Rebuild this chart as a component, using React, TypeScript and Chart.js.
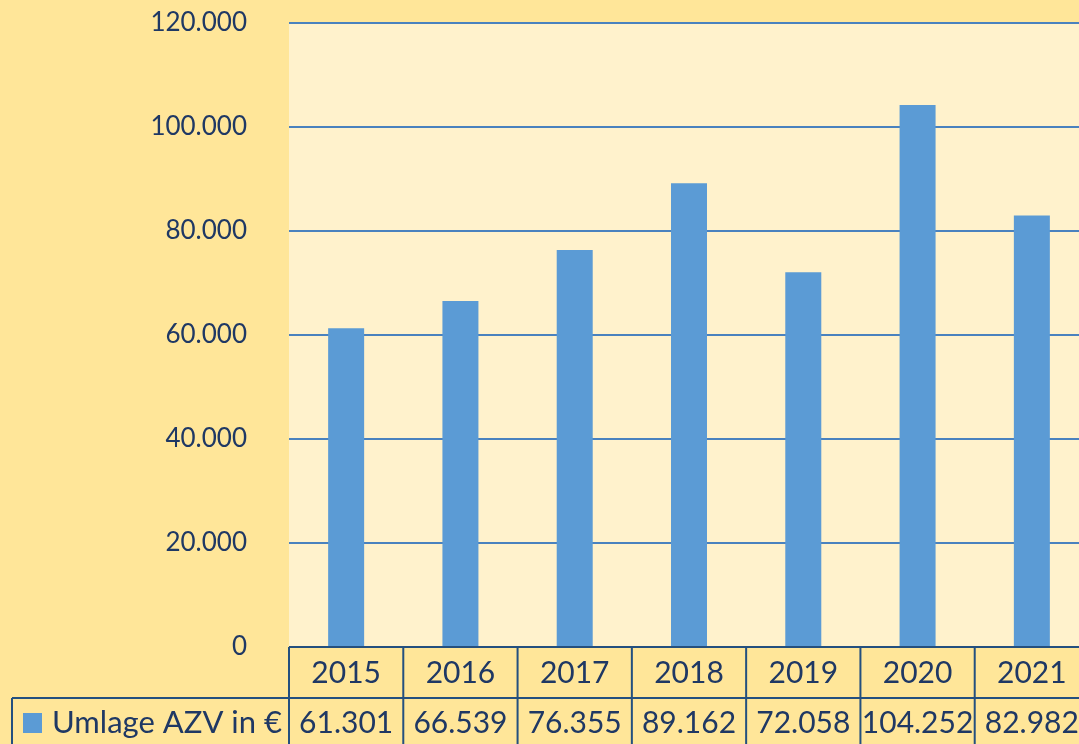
import React, { useEffect, useRef } from "react";
import { Chart, registerables } from "chart.js";

Chart.register(...registerables);

const years: string[] = ["2015", "2016", "2017", "2018", "2019", "2020", "2021"];
const umlageAZV: number[] = [61301, 66539, 76355, 89162, 72058, 104252, 82982];
const seriesLabel = "Umlage AZV in €";
const yMax = 120000;
const yStep = 20000;

const FONT = "Lato";
const TEXT = "#1F3864";
const BAR = "#5B9BD5";
const GRID = "#4A82BE";
const TABLE = "#24507F";
const OUTER_BG = "#FFE699";
const PLOT_BG = "#FFF2CC";

const fmt = (v: number): string =>
  String(Math.round(v)).replace(/\B(?=(\d{3})+(?!\d))/g, ".");

const tablePlugin = {
  id: "tablePlugin",
  beforeDraw(chart: any) {
    const { ctx, chartArea, width, height } = chart;
    ctx.save();
    ctx.fillStyle = OUTER_BG;
    ctx.fillRect(0, 0, width, height);
    ctx.fillStyle = PLOT_BG;
    ctx.fillRect(chartArea.left, chartArea.top, chartArea.right - chartArea.left, chartArea.bottom - chartArea.top);
    ctx.restore();
  },
  afterDraw(chart: any) {
    const { ctx, chartArea, height } = chart;
    const x = chart.scales.x;
    const step = x.getPixelForValue(1) - x.getPixelForValue(0);
    const top = chartArea.bottom;
    const rowH = 51;
    const mid = top + rowH;
    const bottom = height + 10;
    const legendLeft = 12;

    ctx.save();
    ctx.strokeStyle = TABLE;
    ctx.lineWidth = 2;
    ctx.beginPath();
    ctx.moveTo(chartArea.left, top);
    ctx.lineTo(chartArea.right + 2, top);
    ctx.moveTo(legendLeft, mid);
    ctx.lineTo(chartArea.right + 2, mid);
    ctx.moveTo(legendLeft, mid);
    ctx.lineTo(legendLeft, bottom);
    for (let i = 0; i <= years.length; i++) {
      const bx = x.getPixelForValue(0) - step / 2 + i * step;
      ctx.moveTo(bx, top);
      ctx.lineTo(bx, bottom);
    }
    ctx.stroke();

    // values row
    ctx.fillStyle = TEXT;
    ctx.font = `30px ${FONT}`;
    ctx.textAlign = "center";
    ctx.textBaseline = "middle";
    const valY = mid + 25;
    umlageAZV.forEach((v, i) => {
      ctx.fillText(fmt(v), x.getPixelForValue(i), valY);
    });

    // legend key
    const ds = chart.data.datasets[0];
    ctx.fillStyle = ds.backgroundColor;
    ctx.fillRect(23, valY - 10, 19, 20);
    ctx.fillStyle = TEXT;
    ctx.textAlign = "left";
    ctx.font = `31px ${FONT}`;
    ctx.fillText(ds.label, 52, valY);
    ctx.restore();
  },
};

export default function App() {
  const ref = useRef<HTMLCanvasElement | null>(null);

  useEffect(() => {
    if (!ref.current) return;
    const chart = new Chart(ref.current, {
      type: "bar",
      data: {
        labels: years,
        datasets: [
          {
            label: seriesLabel,
            data: umlageAZV,
            backgroundColor: BAR,
            borderWidth: 0,
            barPercentage: 0.315,
            categoryPercentage: 1,
          },
        ],
      },
      options: {
        responsive: false,
        animation: false,
        layout: { padding: { top: 23, right: 0, left: 0, bottom: 0 } },
        plugins: {
          legend: { display: false },
          tooltip: { enabled: false },
          title: { display: false },
        },
        scales: {
          x: {
            grid: { display: false, drawTicks: false },
            border: { display: false },
            ticks: {
              color: TEXT,
              font: { family: FONT, size: 30 },
              padding: 8,
            },
            afterFit: (s: any) => {
              s.height = 97;
              s.paddingLeft = 0;
              s.paddingRight = 0;
            },
          },
          y: {
            min: 0,
            max: yMax,
            grid: { color: GRID, lineWidth: 2, drawTicks: false },
            border: { display: false },
            ticks: {
              stepSize: yStep,
              color: TEXT,
              font: { family: FONT, size: 26 },
              padding: 42,
              callback: (v: any) => fmt(Number(v)),
            },
            afterFit: (s: any) => {
              s.width = 289;
              s.paddingTop = 0;
              s.paddingBottom = 0;
            },
          },
        },
      },
      plugins: [tablePlugin],
    });
    return () => chart.destroy();
  }, []);

  return (
    <div
      style={{
        position: "fixed",
        left: 0,
        top: 0,
        width: 1079,
        height: 744,
        overflow: "hidden",
        background: OUTER_BG,
      }}
    >
      <canvas ref={ref} width={1089} height={744} style={{ display: "block", width: 1089, height: 744 }} />
    </div>
  );
}
